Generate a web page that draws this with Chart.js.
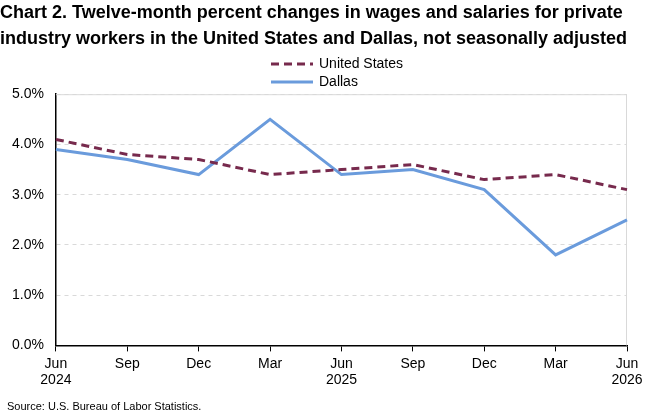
<!DOCTYPE html>
<html>
<head>
<meta charset="utf-8">
<script src="https://cdn.jsdelivr.net/npm/chart.js@4"></script>
<style>
  html, body { margin: 0; padding: 0; background: #fff; }
  #wrap { width: 667px; height: 413px; }
</style>
</head>
<body>
<div id="wrap"><canvas id="chart1" width="667" height="413"></canvas></div>
<script>
// x labels (month, year on second line)
const months = ['Jun', 'Sep', 'Dec', 'Mar', 'Jun', 'Sep', 'Dec', 'Mar', 'Jun'];
const years = ['2024', '', '', '', '2025', '', '', '', '2026'];
// twelve-month percent changes
const usValues = [4.1, 3.8, 3.7, 3.4, 3.5, 3.6, 3.3, 3.4, 3.1];
const dallasValues = [3.9, 3.7, 3.4, 4.5, 3.4, 3.5, 3.1, 1.8, 2.5];
const yTicks = [0, 1, 2, 3, 4, 5];

const FONT = "'Liberation Sans', Arial, sans-serif";
Chart.defaults.font.family = FONT;
Chart.defaults.color = '#000';

// light gray frame around the plot area + custom stacked legend + source note
const extras = {
    id: 'extras',
    beforeDatasetsDraw(chart) {
        const { ctx, chartArea: a } = chart;
        ctx.save();
        ctx.strokeStyle = '#d9d9d9';
        ctx.lineWidth = 1;
        ctx.beginPath();
        ctx.moveTo(a.left, a.top + 0.5);
        ctx.lineTo(a.right - 0.5, a.top + 0.5);
        ctx.lineTo(a.right - 0.5, a.bottom);
        ctx.stroke();
        ctx.restore();
    },
    afterDraw(chart) {
        const ctx = chart.ctx;
        ctx.save();
        // legend
        chart.data.datasets.forEach((ds, i) => {
            const y = 64 + i * 18;
            ctx.strokeStyle = ds.borderColor;
            ctx.lineWidth = 3;
            ctx.setLineDash(ds.borderDash || []);
            ctx.beginPath();
            ctx.moveTo(271, y);
            ctx.lineTo(313, y);
            ctx.stroke();
            ctx.setLineDash([]);
            ctx.fillStyle = '#000';
            ctx.font = '14px ' + FONT;
            ctx.textBaseline = 'middle';
            ctx.fillText(ds.label, 319, y);
        });
        // source
        ctx.font = '11px ' + FONT;
        ctx.textBaseline = 'alphabetic';
        ctx.fillText('Source: U.S. Bureau of Labor Statistics.', 7, 410);
        ctx.restore();
    }
};

new Chart(document.getElementById('chart1'), {
    type: 'line',
    data: {
        labels: months.map((m, i) => years[i] ? [m, years[i]] : m),
        datasets: [{
            label: 'United States',
            data: usValues,
            borderColor: '#772a4d',
            borderWidth: 3,
            borderDash: [8, 5],
            pointRadius: 0,
            tension: 0
        }, {
            label: 'Dallas',
            data: dallasValues,
            borderColor: '#6a9bdc',
            borderWidth: 3,
            pointRadius: 0,
            tension: 0
        }]
    },
    plugins: [extras],
    options: {
        responsive: false,
        animation: false,
        layout: { padding: { left: 0, right: 40, top: 0, bottom: 20 } },
        plugins: {
            legend: { display: false },
            tooltip: { enabled: false },
            title: {
                display: true,
                align: 'start',
                text: ['Chart 2. Twelve-month percent changes in wages and salaries for private',
                       'industry workers in the United States and Dallas, not seasonally adjusted'],
                font: { size: 18, weight: 'bold', lineHeight: 1.45 },
                color: '#000',
                padding: { top: 0, bottom: 42 }
            }
        },
        scales: {
            x: {
                offset: false,
                grid: { drawOnChartArea: false, drawTicks: true, tickLength: 6, color: '#000' },
                border: { color: '#000', width: 1.5 },
                ticks: { font: { size: 14 }, color: '#000', maxRotation: 0, padding: 4 }
            },
            y: {
                min: 0,
                max: 5,
                afterBuildTicks(axis) { axis.ticks = yTicks.map(v => ({ value: v })); },
                grid: { color: '#d9d9d9', drawTicks: false },
                border: { color: '#000', width: 1.5, dash: [4, 4] },
                ticks: {
                    font: { size: 14 }, color: '#000', padding: 12,
                    callback: v => v.toFixed(1) + '%'
                }
            }
        }
    }
});
</script>
</body>
</html>
